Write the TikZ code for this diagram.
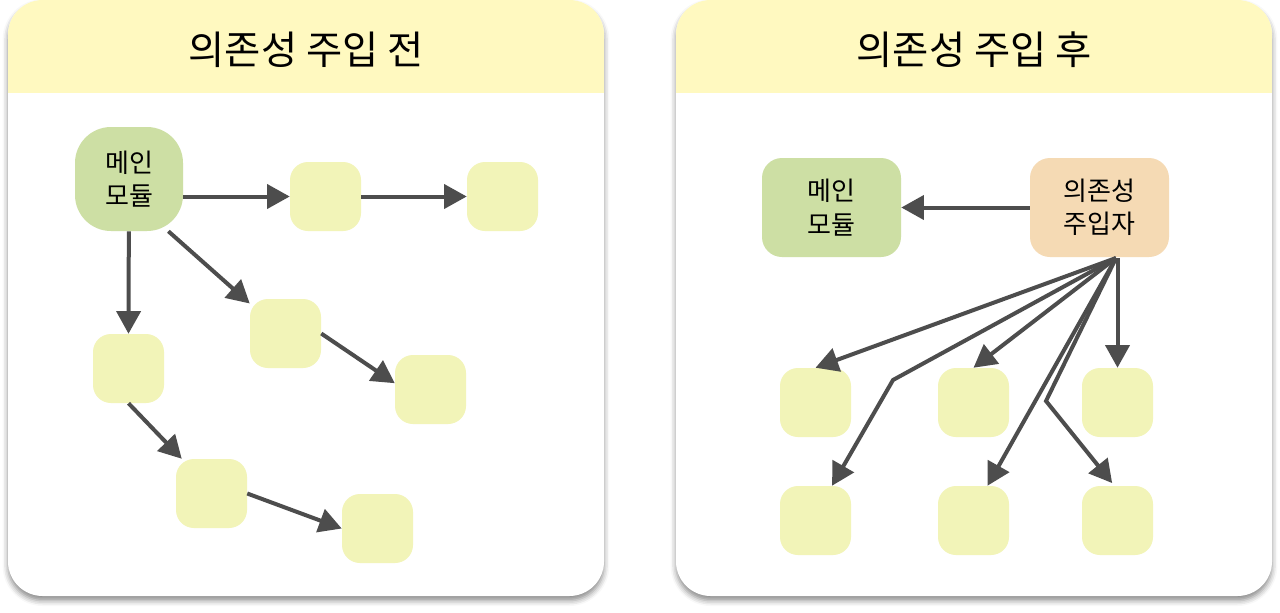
\documentclass[tikz,border=0pt]{standalone}
\usepackage{fontspec}
\newfontfamily\kr{Noto Sans CJK KR}
\usetikzlibrary{arrows.meta,shadows.blur}

\definecolor{headyellow}{HTML}{FFF9C0}
\definecolor{maingreen}{HTML}{CDDFA4}
\definecolor{boxyellow}{HTML}{F2F4B8}
\definecolor{injorange}{HTML}{F5DAB4}
\definecolor{arrowgray}{HTML}{4D4D4D}

\begin{document}
\begin{tikzpicture}[x=0.75pt, y=-0.75pt, font=\kr]
    \tikzstyle{every node}=[inner sep=0pt, align=center];
    \tikzstyle{panel}=[fill=white, rounded corners=26pt, minimum width=447pt, minimum height=447pt,
        blur shadow={shadow xshift=0pt, shadow yshift=-3.5pt, shadow blur radius=4pt, shadow opacity=45},
        path picture={\fill[headyellow, sharp corners] (path picture bounding box.north west) rectangle ([yshift=-69.75pt]path picture bounding box.north east);}];
    \tikzstyle{title}=[font=\kr\fontsize{29.5}{34}\selectfont];
    \tikzstyle{label}=[font=\kr\fontsize{19.5}{25}\selectfont];
    \tikzstyle{mainbox}=[label, fill=maingreen, rounded corners=27pt, minimum width=81pt, minimum height=78pt];
    \tikzstyle{bigbox}=[label, rounded corners=15pt, minimum width=104.25pt, minimum height=74.25pt];
    \tikzstyle{small}=[fill=boxyellow, rounded corners=13.5pt, minimum width=53.25pt, minimum height=51.75pt];
    \tikzstyle{arr}=[draw=arrowgray, line width=3pt, -{Triangle[length=17pt, width=18pt]}];

    \useasboundingbox (0,0) rectangle (1280,612);

    % panels
    \node at ( 306, 298) (before) [panel] {};
    \node at ( 974, 298) (after)  [panel] {};
    \node at ( 306,  50) (t1) [title] {의존성 주입 전};
    \node at ( 974,  50) (t2) [title] {의존성 주입 후};

    % before
    \node at (129.0, 179.0) (main) [mainbox] {메인\\모듈};
    \node at (325.5, 196.5) (a) [small] {};
    \node at (502.5, 196.5) (b) [small] {};
    \node at (285.5, 333.5) (c) [small] {};
    \node at (430.5, 389.5) (d) [small] {};
    \node at (128.5, 368.5) (e) [small] {};
    \node at (211.5, 493.5) (f) [small] {};
    \node at (377.5, 528.5) (g) [small] {};

    \path (main.east |- a.west) edge[arr] (a.west);
    \path (a.east) edge[arr] (b.west);
    \path (main) edge[arr] (e.north);
    \path (main.-53) edge[arr] (c.140);
    \path (c.east) edge[arr] (d.170);
    \path (e.south) edge[arr] ([xshift=4.5pt]f.north west);
    \path (f.east) edge[arr] (g.west);

    % after
    \node at ( 831.5, 207.5) (main2) [bigbox, fill=maingreen] {메인\\모듈};
    \node at (1099.5, 207.5) (inj)   [bigbox, fill=injorange] {의존성\\주입자};
    \node at ( 815.5, 402.5) (p) [small] {};
    \node at ( 973.5, 402.5) (q) [small] {};
    \node at (1117.5, 402.5) (r) [small] {};
    \node at ( 815.5, 520.5) (s) [small] {};
    \node at ( 973.5, 520.5) (u) [small] {};
    \node at (1117.5, 520.5) (w) [small] {};

    \coordinate (src) at (1116, 258);
    \coordinate (bend1) at (893, 380);
    \coordinate (bend2) at (1046, 401);

    \path (inj.west) edge[arr] (main2.east);
    \path (src) edge[arr] (p.north);
    \path (src) edge[arr] (q.north);
    \path (src) edge[arr] ([xshift=10.5pt]u.north);
    \path (r.north |- src) edge[arr] (r.north);
    \draw[arr] (src) -- (bend1) -- ([xshift=12.4pt]s.north);
    \draw[arr] (src) -- (bend2) -- ([xshift=-4pt, yshift=2pt]w.north);
\end{tikzpicture}
\end{document}
